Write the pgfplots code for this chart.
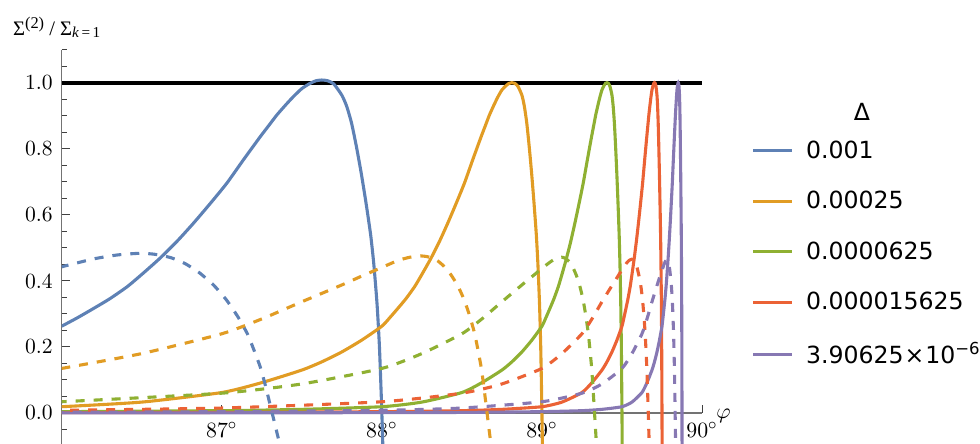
\documentclass[border=0pt]{standalone}
\usepackage{pgfplots}
\pgfplotsset{compat=1.18}
\usepackage{fontspec}
\newfontfamily\legfont{DejaVu Sans}
\newfontfamily\serifL{Liberation Serif}
\usetikzlibrary{calc}
\definecolor{c1}{RGB}{94,129,181}
\definecolor{c2}{RGB}{225,156,36}
\definecolor{c3}{RGB}{143,176,50}
\definecolor{c4}{RGB}{235,98,53}
\definecolor{c5}{RGB}{135,120,179}
\begin{document}
\begin{tikzpicture}
\begin{axis}[
 scale only axis, width=320.15bp, height=197bp,
 xmin=86, xmax=90, ymin=-0.094, ymax=1.1,
 axis x line=middle, axis y line=left,
 axis line style={-, draw=black!55, line width=0.6bp},
 xtick={87,88,89,90}, xticklabels={$87^\circ$,$88^\circ$,$89^\circ$,$90^\circ$},
 ytick={0,0.2,0.4,0.6,0.8,1.0}, yticklabels={0.0,0.2,0.4,0.6,0.8,1.0},
 minor ytick={-0.05,0.05,0.1,0.15,0.25,0.3,0.35,0.45,0.5,0.55,0.65,0.7,0.75,0.85,0.9,0.95,1.05,1.1},
 tick align=inside,
 major tick length=4bp, minor tick length=2.5bp,
 every tick/.style={black!75, line width=0.5bp},
 tick label style={font=\fontsize{10.8bp}{12bp}\selectfont, inner sep=0pt},
 xticklabel style={anchor=north, yshift=-4.5bp},
 yticklabel style={anchor=east, xshift=-4.3bp},
 legend style={at={(1.0776,0.7698)}, anchor=north west, draw=none, fill=none,
   inner sep=0pt, outer sep=0pt, font=\legfont\fontsize{11.8bp}{14bp}\selectfont,
   row sep=15bp, column sep=6.5bp, nodes={inner sep=0pt}},
 legend cell align=left,
 legend image code/.code={\draw[#1, line width=1.5bp] (0bp,0bp) -- (19.15bp,0bp);},
 every axis plot/.append style={line width=1.55bp, smooth, tension=0.35},
]
\coordinate (O) at (rel axis cs:0,0);
\addplot[black, line width=1.9bp, forget plot, sharp plot] coordinates {(86,1) (90,1)};
% solid curves
\addplot[c1] coordinates {
(88.015,-0.25) (88.000,0) (87.985,0.20) (87.97,0.33) (87.95,0.45) (87.93,0.54) (87.90,0.64) (87.87,0.73) (87.84,0.81) (87.81,0.88) (87.78,0.93) (87.75,0.963) (87.70,0.997) (87.66,1.007) (87.625,1.009) (87.59,1.007) (87.552,0.999) (87.50,0.983) (87.448,0.959) (87.40,0.934) (87.344,0.903) (87.30,0.875) (87.24,0.837) (87.135,0.767) (87.031,0.696) (86.93,0.636) (86.823,0.575) (86.72,0.52) (86.614,0.469) (86.51,0.424) (86.41,0.383) (86.30,0.346) (86.20,0.317) (86.10,0.289) (86.00,0.263)};
\addlegendentry{0.001}
\addplot[c2] coordinates {
(89.0075,-0.25) (89.0,0) (88.9925,0.20) (88.985,0.33) (88.975,0.45) (88.965,0.54) (88.95,0.64) (88.935,0.73) (88.92,0.81) (88.905,0.88) (88.89,0.93) (88.875,0.963) (88.85,0.99) (88.83,0.999) (88.8125,1.001) (88.795,0.999) (88.776,0.992) (88.75,0.979) (88.724,0.957) (88.70,0.933) (88.672,0.903) (88.65,0.875) (88.62,0.837) (88.5675,0.767) (88.5155,0.696) (88.465,0.636) (88.4115,0.575) (88.36,0.52) (88.307,0.469) (88.255,0.424) (88.205,0.383) (88.15,0.346) (88.10,0.317) (88.05,0.289) (88.0,0.263) (87.875,0.221) (87.75,0.185) (87.625,0.155) (87.5,0.13) (87.25,0.092) (87.0,0.062) (86.5,0.033) (86.0,0.019)};
\addlegendentry{0.00025}
\addplot[c3] coordinates {
(89.50375,-0.25) (89.5,0) (89.49625,0.20) (89.4925,0.33) (89.4875,0.45) (89.4825,0.54) (89.475,0.64) (89.4675,0.73) (89.46,0.81) (89.4525,0.88) (89.445,0.93) (89.4375,0.963) (89.425,0.99) (89.415,0.999) (89.40625,1.001) (89.3975,0.999) (89.388,0.992) (89.375,0.979) (89.362,0.957) (89.35,0.933) (89.336,0.903) (89.325,0.875) (89.31,0.837) (89.28375,0.767) (89.25775,0.696) (89.2325,0.636) (89.20575,0.575) (89.18,0.52) (89.1535,0.469) (89.1275,0.424) (89.1025,0.383) (89.075,0.346) (89.05,0.317) (89.025,0.289) (89.0,0.263) (88.9375,0.221) (88.875,0.185) (88.8125,0.155) (88.75,0.13) (88.625,0.092) (88.5,0.062) (88.25,0.033) (88.0,0.019) (87.5,0.011) (87.0,0.007) (86.0,0.004)};
\addlegendentry{0.0000625}
\addplot[c4] coordinates {
(89.751875,-0.25) (89.75,0) (89.748125,0.20) (89.74625,0.33) (89.74375,0.45) (89.74125,0.54) (89.7375,0.64) (89.73375,0.73) (89.73,0.81) (89.72625,0.88) (89.7225,0.93) (89.71875,0.963) (89.7125,0.99) (89.7075,0.999) (89.703125,1.001) (89.69875,0.999) (89.694,0.992) (89.6875,0.979) (89.681,0.957) (89.675,0.933) (89.668,0.903) (89.6625,0.875) (89.655,0.837) (89.641875,0.767) (89.628875,0.696) (89.61625,0.636) (89.602875,0.575) (89.59,0.52) (89.57675,0.469) (89.56375,0.424) (89.55125,0.383) (89.5375,0.346) (89.525,0.317) (89.5125,0.289) (89.5,0.263) (89.46875,0.221) (89.4375,0.185) (89.40625,0.155) (89.375,0.13) (89.3125,0.092) (89.25,0.062) (89.125,0.033) (89.0,0.019) (88.75,0.011) (88.5,0.007) (88.0,0.004) (87.0,0.0017) (86.0,0.001)};
\addlegendentry{0.000015625}
\addplot[c5] coordinates {
(89.8759375,-0.25) (89.875,0) (89.8740625,0.20) (89.873125,0.33) (89.871875,0.45) (89.870625,0.54) (89.86875,0.64) (89.866875,0.73) (89.865,0.81) (89.863125,0.88) (89.86125,0.93) (89.859375,0.963) (89.85625,0.99) (89.85375,0.999) (89.8515625,1.001) (89.849375,0.999) (89.847,0.992) (89.84375,0.979) (89.8405,0.957) (89.8375,0.933) (89.834,0.903) (89.83125,0.875) (89.8275,0.837) (89.8209375,0.767) (89.8144375,0.696) (89.808125,0.636) (89.8014375,0.575) (89.795,0.52) (89.788375,0.469) (89.781875,0.424) (89.775625,0.383) (89.76875,0.346) (89.7625,0.317) (89.75625,0.289) (89.75,0.263) (89.734375,0.221) (89.71875,0.185) (89.703125,0.155) (89.6875,0.13) (89.65625,0.092) (89.625,0.062) (89.5625,0.033) (89.5,0.019) (89.375,0.011) (89.25,0.007) (89.0,0.004) (88.5,0.0017) (88.0,0.001) (87.0,0.0005) (86.0,0.0003)};
\addlegendentry{3.90625{\kern0.5bp}×{\kern0.5bp}10\textsuperscript{−6}}
% dashed curves
\addplot[c1, dash pattern=on 4.5bp off 4.5bp, forget plot] coordinates {
(87.38,-0.13) (87.30,0.029) (87.27,0.088) (87.24,0.14) (87.20,0.192) (87.16,0.24) (87.10,0.292) (87.03,0.342) (86.95,0.387) (86.86,0.425) (86.77,0.453) (86.68,0.471) (86.58,0.481) (86.49,0.484) (86.35,0.479) (86.20,0.467) (86.00,0.443)};
\addplot[c2, dash pattern=on 4.5bp off 4.5bp, forget plot] coordinates {
(88.69,-0.13) (88.65,0.029) (88.635,0.088) (88.62,0.14) (88.60,0.192) (88.58,0.24) (88.55,0.292) (88.515,0.342) (88.475,0.385) (88.43,0.42) (88.385,0.446) (88.34,0.464) (88.29,0.473) (88.245,0.476) (88.175,0.472) (88.10,0.462) (88.00,0.441) (87.875,0.415) (87.75,0.388) (87.5,0.337) (87.25,0.285) (87.0,0.24) (86.5,0.18) (86.0,0.135)};
\addplot[c3, dash pattern=on 4.5bp off 4.5bp, forget plot] coordinates {
(89.345,-0.13) (89.325,0.029) (89.3175,0.088) (89.31,0.14) (89.30,0.192) (89.29,0.24) (89.275,0.292) (89.2575,0.342) (89.2375,0.383) (89.215,0.417) (89.1925,0.442) (89.17,0.459) (89.145,0.469) (89.1225,0.472) (89.0875,0.468) (89.05,0.457) (89.00,0.438) (88.9375,0.413) (88.875,0.388) (88.75,0.337) (88.625,0.285) (88.5,0.24) (88.25,0.18) (88.0,0.135) (87.5,0.088) (87.0,0.06) (86.0,0.034)};
\addplot[c4, dash pattern=on 4.5bp off 4.5bp, forget plot] coordinates {
(89.6725,-0.13) (89.6625,0.029) (89.65875,0.088) (89.655,0.14) (89.65,0.192) (89.645,0.24) (89.6375,0.292) (89.62875,0.342) (89.61875,0.382) (89.6075,0.413) (89.59625,0.437) (89.585,0.454) (89.5725,0.463) (89.56125,0.466) (89.54375,0.462) (89.525,0.452) (89.50,0.434) (89.46875,0.41) (89.4375,0.386) (89.375,0.337) (89.3125,0.285) (89.25,0.24) (89.125,0.18) (89.0,0.135) (88.75,0.088) (88.5,0.06) (88.0,0.034) (87.0,0.015) (86.0,0.008)};
\addplot[c5, dash pattern=on 4.5bp off 4.5bp, forget plot] coordinates {
(89.83625,-0.13) (89.83125,0.029) (89.829375,0.088) (89.8275,0.14) (89.825,0.192) (89.8225,0.24) (89.81875,0.292) (89.814375,0.342) (89.809375,0.381) (89.80375,0.411) (89.798125,0.435) (89.7925,0.452) (89.78625,0.461) (89.780625,0.464) (89.771875,0.46) (89.7625,0.45) (89.75,0.432) (89.734375,0.41) (89.71875,0.386) (89.6875,0.337) (89.65625,0.285) (89.625,0.24) (89.5625,0.18) (89.5,0.135) (89.375,0.088) (89.25,0.06) (89.0,0.034) (88.5,0.015) (88.0,0.008) (87.0,0.004) (86.0,0.002)};
\end{axis}
\node[anchor=base west, inner sep=0pt, font=\serifL\fontsize{10.3bp}{12bp}\selectfont] at ($(O)+(-24.5bp,204bp)$) {Σ\raisebox{3.6bp}{\fontsize{8.2bp}{9bp}\selectfont(2)} / Σ\raisebox{-1bp}{\fontsize{7.6bp}{9bp}\selectfont\itshape k\upshape\,=\,1}};
\node[anchor=base west, inner sep=0pt, font=\fontsize{11bp}{13bp}\selectfont] at ($(O)+(327.15bp,13bp)$) {$\varphi$};
\node[anchor=center, inner sep=0pt, font=\legfont\fontsize{11.8bp}{14bp}\selectfont] at ($(O)+(400.15bp,166bp)$) {Δ};
\pgfresetboundingbox
\path[use as bounding box] ($(O)+(-30.85bp,0bp)$) rectangle ($(O)+(459.15bp,222bp)$);
\end{tikzpicture}
\end{document}
